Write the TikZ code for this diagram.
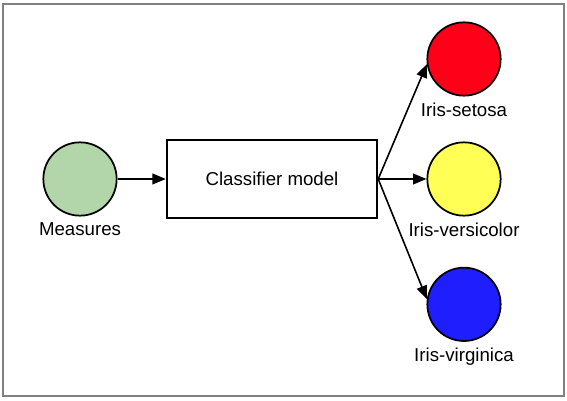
\documentclass[tikz,border=0pt]{standalone}
\usepackage{fontspec}
\setmainfont{Liberation Sans}
\usepackage{xcolor}
\usetikzlibrary{positioning, arrows.meta}

\definecolor{measgreen}{RGB}{178,214,170}
\definecolor{setosared}{RGB}{255,0,25}
\definecolor{versiyellow}{RGB}{255,255,85}
\definecolor{virgiblue}{RGB}{30,30,255}

\begin{document}
\begin{tikzpicture}[node distance=144pt, on grid, font=\fontsize{14pt}{16pt}\selectfont,
    class/.style={circle, draw, line width=1.3pt, minimum size=55pt, inner sep=0pt},
    classlabel/.style={label={[label distance=1pt]below:#1}},
    flow/.style={-{Triangle[length=10pt,width=8pt]}, line width=1.2pt}]

        \useasboundingbox (-60pt,134.25pt) rectangle (365.25pt,-165.75pt);
        \draw[gray, line width=1.2pt] (-57.75pt,131.25pt) rectangle (363pt,-162.75pt);

        \node[class, fill=measgreen, classlabel=Measures] (meas) {};
        \node[draw, line width=1.3pt, minimum width=158pt, minimum height=58pt] (model) [right=of meas] {Classifier model};
        \node[class, fill=versiyellow, classlabel=Iris-versicolor] (versi) [right=of model] {};
        \node[class, fill=setosared, classlabel=Iris-setosa] (setosa) [above=90pt of versi] {};
        \node[class, fill=virgiblue, classlabel=Iris-virginica] (virgi) [below=94pt of versi] {};

        \draw[flow] (meas) -- (model);
        \draw[flow] (model.east) -- (setosa.188);
        \draw[flow] (model.east) -- (versi);
        \draw[flow] (model.east) -- (virgi.172);

    \end{tikzpicture}
\end{document}
